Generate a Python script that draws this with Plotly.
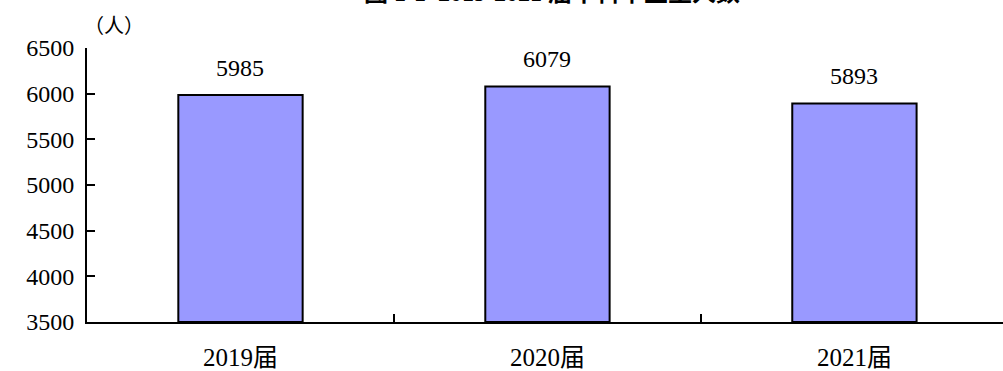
import plotly.graph_objects as go

# Graduates per cohort
cohorts = ["2019届", "2020届", "2021届"]
graduates = [5985, 6079, 5893]
y_ticks = [3500, 4000, 4500, 5000, 5500, 6000, 6500]
BASE = 3500

title_text = "图 1-1  2019-2021 届本科毕业生人数"
unit_text = "（人）"

NUM_FONT = "Liberation Serif"
FONT = "Liberation Serif, Noto Sans CJK SC"

fig = go.Figure()
fig.add_trace(go.Bar(
    x=cohorts,
    y=[v - BASE for v in graduates],
    base=BASE,
    width=0.405,
    marker=dict(color="#9999FF", line=dict(color="#000000", width=2)),
    hoverinfo="skip",
))

for c, v in zip(cohorts, graduates):
    fig.add_annotation(
        x=c, y=v, xref="x", yref="y", text=str(v), showarrow=False,
        yanchor="bottom", yshift=12,
        font=dict(family=NUM_FONT, size=24, color="#000000"),
    )

fig.add_annotation(
    x=-0.006, y=1.128, xref="x domain", yref="paper", text=unit_text, showarrow=False,
    xanchor="left",
    font=dict(family=FONT, size=20, color="#000000"),
)
fig.add_annotation(
    x=0.508, y=1.145, xref="paper", yref="paper", text="<b>" + title_text + "</b>",
    showarrow=False, yanchor="bottom",
    font=dict(family=FONT, size=24, color="#000000"),
)

fig.update_layout(
    width=1003, height=371,
    margin=dict(l=87, r=0, t=48, b=49),
    plot_bgcolor="#FFFFFF", paper_bgcolor="#FFFFFF",
    showlegend=False,
)
fig.update_xaxes(
    type="category",
    range=[-0.5, 2.484],
    showline=True, linecolor="#000000", linewidth=2,
    tickson="boundaries", ticks="inside", ticklen=8, tickcolor="#000000", tickwidth=2,
    showgrid=False,
    tickfont=dict(family=FONT, size=25, color="#000000"),
    ticklabelstandoff=12,
)
fig.update_yaxes(
    range=[3500, 6500],
    tickvals=y_ticks,
    showline=True, linecolor="#000000", linewidth=2,
    ticks="inside", ticklen=8, tickcolor="#000000", tickwidth=2,
    showgrid=False, zeroline=False,
    tickfont=dict(family=NUM_FONT, size=24, color="#000000"),
    ticklabelstandoff=6,
)

fig.write_html("out.html")
